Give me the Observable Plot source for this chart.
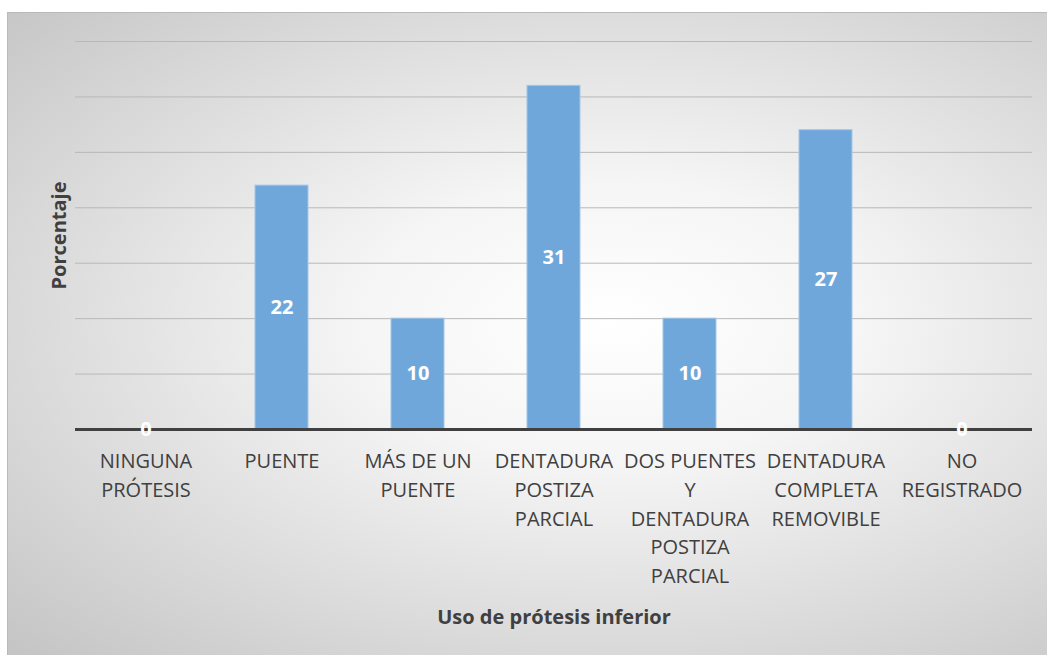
<!DOCTYPE html>
<html>
<head>
<meta charset="utf-8">
<script src="https://cdn.jsdelivr.net/npm/d3@7"></script>
<script src="https://cdn.jsdelivr.net/npm/@observablehq/plot@0.6"></script>
<style>
  html, body { margin: 0; padding: 0; background: #ffffff; }
  #fondo {
    position: absolute; left: 7px; top: 12px; width: 1040px; height: 643px;
    border-left: 1px solid #b9b9b9; border-top: 1px solid #b9b9b9;
    background: radial-gradient(ellipse farthest-corner at 58% 48%, #ffffff 0%, #f5f5f5 30%, #c4c4c4 100%);
  }
  #grafico { position: absolute; left: 0; top: 0; }
</style>
</head>
<body>
<div id="fondo"></div>
<div id="grafico"></div>
<script>
// Uso de prótesis inferior (porcentaje de pacientes)
const categorias = [
  "Ninguna prótesis",
  "Puente",
  "Más de un puente",
  "Dentadura postiza parcial",
  "Dos puentes y dentadura postiza parcial",
  "Dentadura completa removible",
  "No registrado"
];
const porcentajes = [0, 22, 10, 31, 10, 27, 0];
const etiquetas = [
  "NINGUNA\nPRÓTESIS",
  "PUENTE",
  "MÁS DE UN\nPUENTE",
  "DENTADURA\nPOSTIZA\nPARCIAL",
  "DOS PUENTES\nY\nDENTADURA\nPOSTIZA\nPARCIAL",
  "DENTADURA\nCOMPLETA\nREMOVIBLE",
  "NO\nREGISTRADO"
];
const marcasY = [5, 10, 15, 20, 25, 30, 35];

const datos = categorias.map((c, i) => ({categoria: c, valor: porcentajes[i]}));
const etiquetaDe = new Map(categorias.map((c, i) => [c, etiquetas[i]]));

const fuente = "'Open Sans', sans-serif";

const chart = Plot.plot({
  width: 1047,
  height: 655,
  marginLeft: 75,
  marginRight: 15,
  marginTop: 41,
  marginBottom: 226,
  style: {background: "transparent", fontFamily: fuente},
  x: {domain: categorias, paddingInner: 0.61, paddingOuter: 0.305},
  y: {domain: [0, 35]},
  marks: [
    Plot.gridY(marcasY, {stroke: "#b8b8b8", strokeOpacity: 1, strokeWidth: 1}),
    Plot.barY(datos, {
      x: "categoria", y: "valor",
      fill: "#70a7db", stroke: "#a4c7e8", strokeWidth: 1
    }),
    Plot.ruleY([0], {stroke: "#404040", strokeWidth: 3}),
    Plot.text(datos, {
      x: "categoria", y: d => d.valor / 2,
      text: d => String(d.valor),
      fill: "#ffffff", fontWeight: "bold", fontSize: 20, fontFamily: fuente
    }),
    Plot.axisX({
      tickSize: 0, tickPadding: 18,
      tickFormat: c => etiquetaDe.get(c),
      fontSize: 20, lineHeight: 1.44, fill: "#404040",
      fontFamily: fuente, label: null
    }),
    Plot.axisY({ticks: [], label: null}),
    Plot.text(["Uso de prótesis inferior"], {
      frameAnchor: "bottom", lineAnchor: "bottom", dy: 194,
      fontSize: 20, fontWeight: "bold", fill: "#404040", fontFamily: fuente
    }),
    Plot.text(["Porcentaje"], {
      frameAnchor: "left", textAnchor: "middle", lineAnchor: "bottom", rotate: -90, dx: -10,
      fontSize: 20, fontWeight: "bold", fill: "#404040", fontFamily: fuente
    })
  ]
});

document.getElementById("grafico").appendChild(chart);
</script>
</body>
</html>
